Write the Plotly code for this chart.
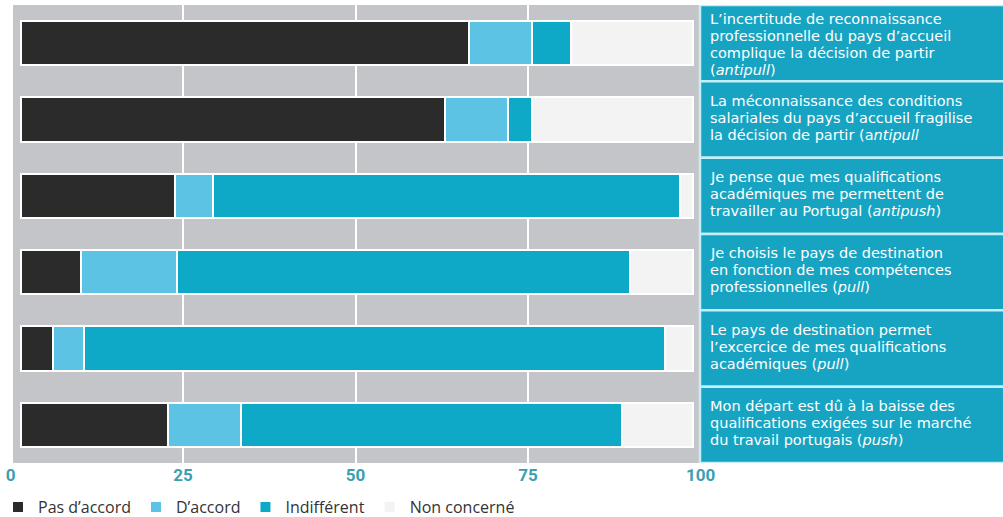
import plotly.graph_objects as go

# ---------------- data ----------------
statements = [
    ["L’incertitude de reconnaissance", "professionnelle du pays d’accueil",
     "complique la décision de partir", "(<i>antipull</i>)"],
    ["La méconnaissance des conditions", "salariales du pays d’accueil fragilise",
     "la décision de partir (a<i>ntipull</i>"],
    ["Je pense que mes qualifications", "académiques me permettent de",
     "travailler au Portugal (<i>antipush</i>)"],
    ["Je choisis le pays de destination", "en fonction de mes compétences",
     "professionnelles (<i>pull</i>)"],
    ["Le pays de destination permet", "l’excercice de mes qualifications",
     "académiques (<i>pull</i>)"],
    ["Mon départ est dû à la baisse des", "qualifications exigées sur le marché",
     "du travail portugais (<i>push</i>)"],
]
row_ids = ["Q1", "Q2", "Q3", "Q4", "Q5", "Q6"]

series_names = ["Pas d’accord", "D’accord", "Indifférent", "Non concerné"]
pas_daccord = [66.7, 63.1, 22.9, 9.0, 4.7, 21.9]
daccord = [9.3, 9.4, 5.7, 14.2, 4.7, 10.8]
indifferent = [5.9, 3.6, 69.4, 67.4, 86.5, 56.8]
non_concerne = [18.1, 23.9, 2.0, 9.4, 4.1, 10.5]
series_values = [pas_daccord, daccord, indifferent, non_concerne]

tick_vals = [0, 25, 50, 75, 100]
tick_text = ["0", "25", "50", "75", "100"]

# ---------------- style ----------------
colors = ["#2b2b2b", "#5cc3e4", "#0fa9c8", "#f3f3f3"]
W, H = 1003, 517
ML, MR, MT, MB = 8, 301, 5, 54
plot_w = W - ML - MR
plot_h = H - MT - MB


def px_to_paper_x(px):
    return (px - ML) / plot_w


def py_to_paper_y(py):
    return (H - MB - py) / plot_h


fig = go.Figure()
for name, vals, col in zip(series_names, series_values, colors):
    fig.add_trace(go.Bar(
        x=vals, y=row_ids, orientation="h", name=name,
        marker=dict(color=col, line=dict(color="#ffffff", width=2)),
        xaxis="x", yaxis="y", hoverinfo="x+name",
    ))

# invisible trace to carry the tick / grid axis
fig.add_trace(go.Scatter(x=[0, 100], y=[row_ids[0], row_ids[0]], mode="markers",
                         marker=dict(opacity=0), xaxis="x2", yaxis="y",
                         showlegend=False, hoverinfo="skip"))

shapes = []
# gray panel background
shapes.append(dict(type="rect", xref="paper", yref="paper",
                   x0=px_to_paper_x(13), x1=px_to_paper_x(700), y0=0, y1=1,
                   fillcolor="#c4c5c8", line=dict(width=0), layer="below"))
# label boxes on the right
for i in range(len(row_ids)):
    shapes.append(dict(type="rect", xref="paper", yref="y",
                       x0=px_to_paper_x(700), x1=px_to_paper_x(1010),
                       y0=i - 0.5, y1=i + 0.5,
                       fillcolor="#17a4c3", line=dict(color="#c6eef6", width=2.5),
                       layer="above"))

annotations = []
LINE = 17
for i, lines in enumerate(statements):
    n = len(lines)
    start = -(n - 1) * LINE / 2 + (1 if n > 3 else -2)
    for k, ln in enumerate(lines):
        annotations.append(dict(
            text=ln, xref="paper", yref="y", x=px_to_paper_x(708), y=i,
            xanchor="left", yanchor="middle", yshift=-(start + k * LINE),
            showarrow=False, align="left",
            font=dict(family="DejaVu Sans", size=14.5, color="#ffffff"),
        ))

# bar axis: 0 at px 21, 100 at px 693
bar_a, bar_b = 21, 6.72
# tick axis: 0 at px 10.5, 100 at px 700.5
tk_a, tk_b = 10.5, 6.9

fig.update_layout(
    width=W, height=H,
    margin=dict(l=ML, r=MR, t=MT, b=MB, autoexpand=False),
    paper_bgcolor="#ffffff", plot_bgcolor="rgba(0,0,0,0)",
    barmode="stack", bargap=0.42,
    xaxis=dict(range=[(ML - bar_a) / bar_b, (ML + plot_w - bar_a) / bar_b],
               showgrid=False, zeroline=False, showticklabels=False,
               fixedrange=True),
    xaxis2=dict(range=[(ML - tk_a) / tk_b, (ML + plot_w - tk_a) / tk_b],
                overlaying="x", side="bottom", tickmode="array",
                tickvals=tick_vals, ticktext=tick_text,
                showgrid=True, gridcolor="#ffffff", gridwidth=2,
                zeroline=False, ticks="", ticklen=0,
                tickfont=dict(family="Roboto", size=17, color="#3a9fb3",
                              weight="bold")),
    yaxis=dict(categoryorder="array", categoryarray=row_ids,
               range=[len(row_ids) - 0.5, -0.5],
               showgrid=False, zeroline=False, showticklabels=False),
    showlegend=True,
    legend=dict(orientation="h", x=px_to_paper_x(-2), xanchor="left",
                y=py_to_paper_y(507), yanchor="middle",
                font=dict(family="Open Sans", size=16, color="#333333"),
                traceorder="normal", bgcolor="rgba(0,0,0,0)"),
    shapes=shapes, annotations=annotations,
)

fig.write_html("out.html",
               config={"displayModeBar": False},
               post_script="document.body.style.margin='0';"
                           "document.body.style.overflow='hidden';")
